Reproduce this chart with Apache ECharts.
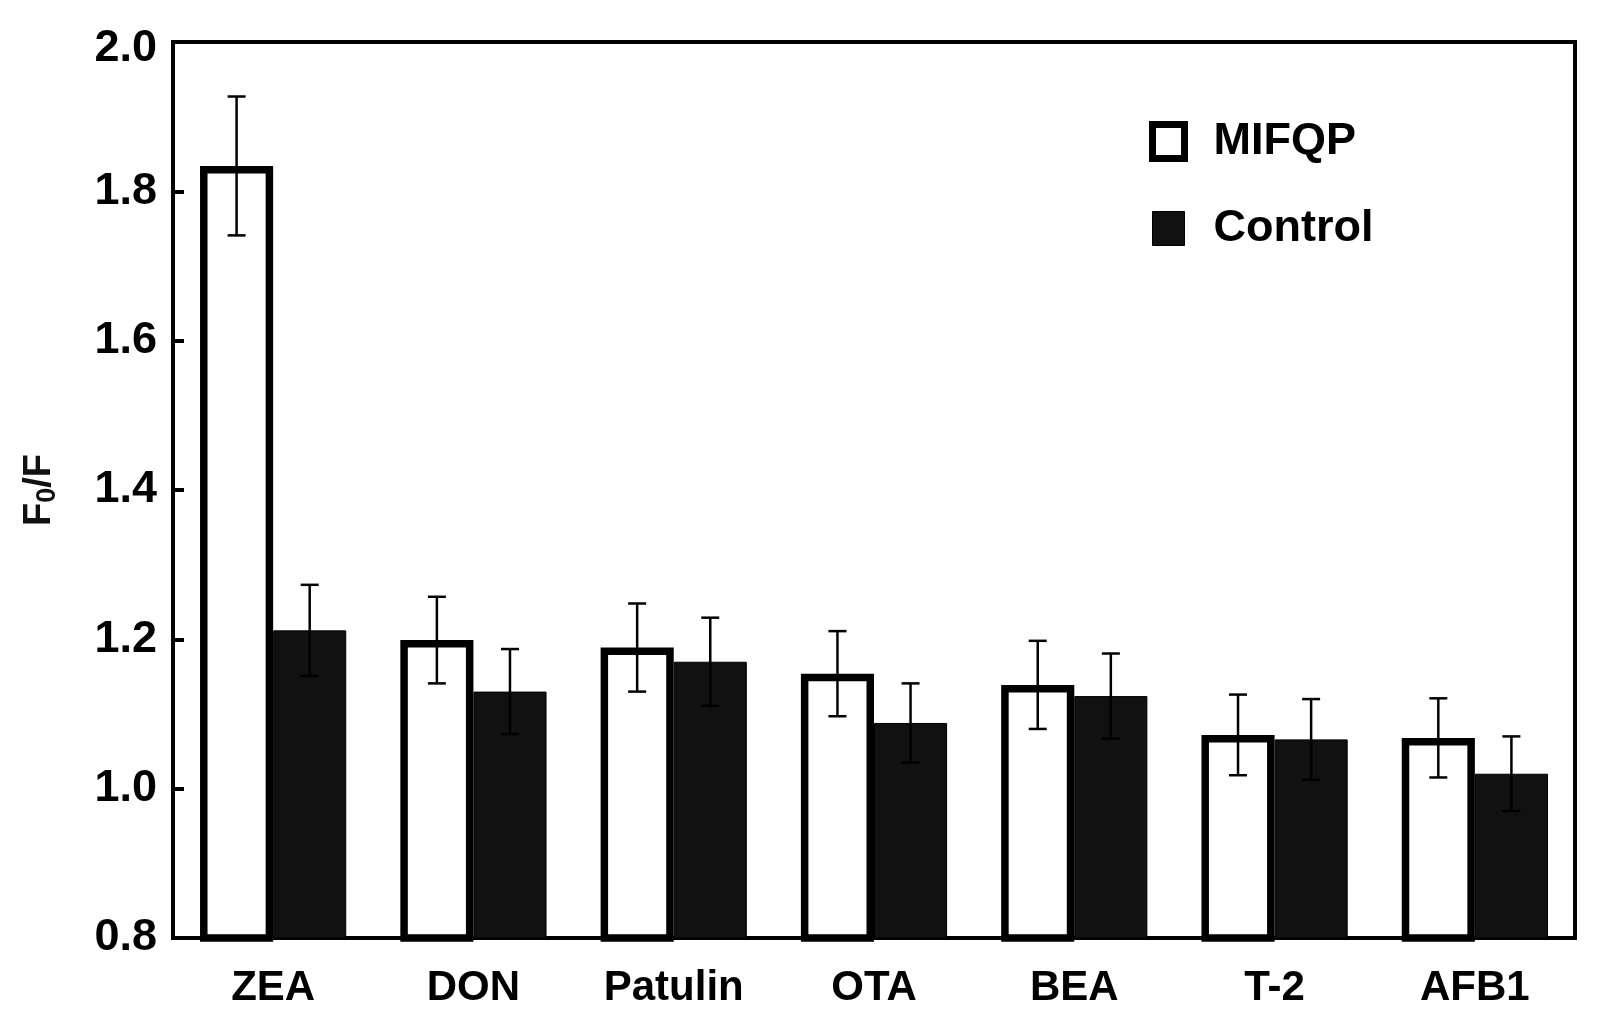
<!DOCTYPE html>
<html>
<head>
<meta charset="utf-8">
<script src="https://cdn.jsdelivr.net/npm/echarts@6/dist/echarts.min.js"></script>
<style>
html,body{margin:0;padding:0;background:#fff;}
#chart{width:1606px;height:1035px;}
</style>
</head>
<body>
<div id="chart"></div>
<script>
const categories = ['ZEA', 'DON', 'Patulin', 'OTA', 'BEA', 'T-2', 'AFB1'];
const mifqpValues = [1.834, 1.199, 1.189, 1.154, 1.139, 1.072, 1.068];
const mifqpErrors = [0.093, 0.058, 0.059, 0.057, 0.059, 0.054, 0.053];
const controlValues = [1.212, 1.130, 1.170, 1.088, 1.124, 1.066, 1.020];
const controlErrors = [0.061, 0.057, 0.059, 0.053, 0.057, 0.054, 0.050];
const yTicks = [0.8, 1.0, 1.2, 1.4, 1.6, 1.8, 2.0];

const FONT = 'Liberation Sans';
const chart = echarts.init(document.getElementById('chart'));

const catGap = 0.27;               // barCategoryGap fraction
const barFrac = (1 - catGap) / 2;  // width fraction of each bar

function errData(vals, errs) {
  return vals.map((v, i) => [i, v - errs[i], v + errs[i]]);
}
function errRender(sign) {
  return function (params, api) {
    const band = api.size([1, 0])[0];
    const dx = sign * band * barFrac / 2;
    const lo = api.coord([api.value(0), api.value(1)]);
    const hi = api.coord([api.value(0), api.value(2)]);
    const x = lo[0] + dx;
    const cap = 9;
    const style = { stroke: '#000', lineWidth: 2.5, fill: null };
    return {
      type: 'group',
      children: [
        { type: 'line', shape: { x1: x, y1: hi[1], x2: x, y2: lo[1] }, style: style },
        { type: 'line', shape: { x1: x - cap, y1: hi[1], x2: x + cap, y2: hi[1] }, style: style },
        { type: 'line', shape: { x1: x - cap, y1: lo[1], x2: x + cap, y2: lo[1] }, style: style }
      ]
    };
  };
}

const option = {
  animation: false,
  backgroundColor: '#fff',
  textStyle: { fontFamily: FONT, fontWeight: 'bold', color: '#000' },
  grid: {
    left: 173, right: 31, top: 42, bottom: 97,
    show: true, borderColor: '#000', borderWidth: 4, backgroundColor: 'transparent'
  },
  legend: {
    orient: 'vertical',
    left: 1144,
    top: 114,
    itemWidth: 32,
    itemHeight: 34,
    itemGap: 42,
    textStyle: { fontFamily: FONT, fontWeight: 'bold', fontSize: 45, color: '#000', lineHeight: 40, padding: [0, 0, 0, 24] },
    data: [
      { name: 'MIFQP', icon: 'rect', itemStyle: { color: '#fff', borderColor: '#000', borderWidth: 7 } },
      { name: 'Control', icon: 'rect', itemStyle: { color: '#111', borderColor: '#000', borderWidth: 1 } }
    ]
  },
  xAxis: {
    type: 'category',
    data: categories,
    axisLine: { lineStyle: { color: '#000', width: 4 } },
    axisTick: { show: false },
    axisLabel: { fontFamily: FONT, fontWeight: 'bold', fontSize: 42, color: '#000', margin: 29 }
  },
  yAxis: {
    type: 'value',
    min: yTicks[0],
    max: yTicks[yTicks.length - 1],
    interval: 0.2,
    name: '{a|F}{b|0}{a|/F}',
    nameLocation: 'middle',
    nameRotate: 90,
    nameGap: 112,
    nameTextStyle: {
      rich: {
        a: { fontFamily: FONT, fontWeight: 'bold', fontSize: 38, color: '#111' },
        b: { fontFamily: FONT, fontWeight: 'bold', fontSize: 27, color: '#111', verticalAlign: 'bottom', padding: [16, 0, 0, 0] }
      }
    },
    axisLine: { show: true, lineStyle: { color: '#000', width: 4 } },
    axisTick: { show: true, inside: true, length: 11, lineStyle: { color: '#000', width: 4 } },
    splitLine: { show: false },
    axisLabel: {
      fontFamily: FONT, fontWeight: 'bold', fontSize: 45, color: '#000', margin: 16,
      formatter: function (v) {
        const s = v.toFixed(1);
        return Math.abs(v - 2.0) < 1e-9 ? '{m|' + s + '}' : s;
      },
      rich: { m: { fontFamily: FONT, fontWeight: 'bold', fontSize: 45, color: '#000', padding: [14, 0, 0, 0] } }
    }
  },
  series: [
    {
      name: 'MIFQP',
      type: 'bar',
      data: mifqpValues,
      barGap: '0%',
      barCategoryGap: (catGap * 100) + '%',
      z: 3,
      itemStyle: { color: '#fff', borderColor: '#000', borderWidth: 7.5 }
    },
    {
      name: 'Control',
      type: 'bar',
      data: controlValues,
      z: 2,
      itemStyle: { color: '#111', borderColor: '#000', borderWidth: 1 }
    },
    {
      name: 'MIFQP err',
      type: 'custom',
      data: errData(mifqpValues, mifqpErrors),
      renderItem: errRender(-1),
      encode: { x: 0, y: [1, 2] },
      z: 10,
      silent: true
    },
    {
      name: 'Control err',
      type: 'custom',
      data: errData(controlValues, controlErrors),
      renderItem: errRender(1),
      encode: { x: 0, y: [1, 2] },
      z: 10,
      silent: true
    }
  ]
};
chart.setOption(option);
</script>
</body>
</html>
